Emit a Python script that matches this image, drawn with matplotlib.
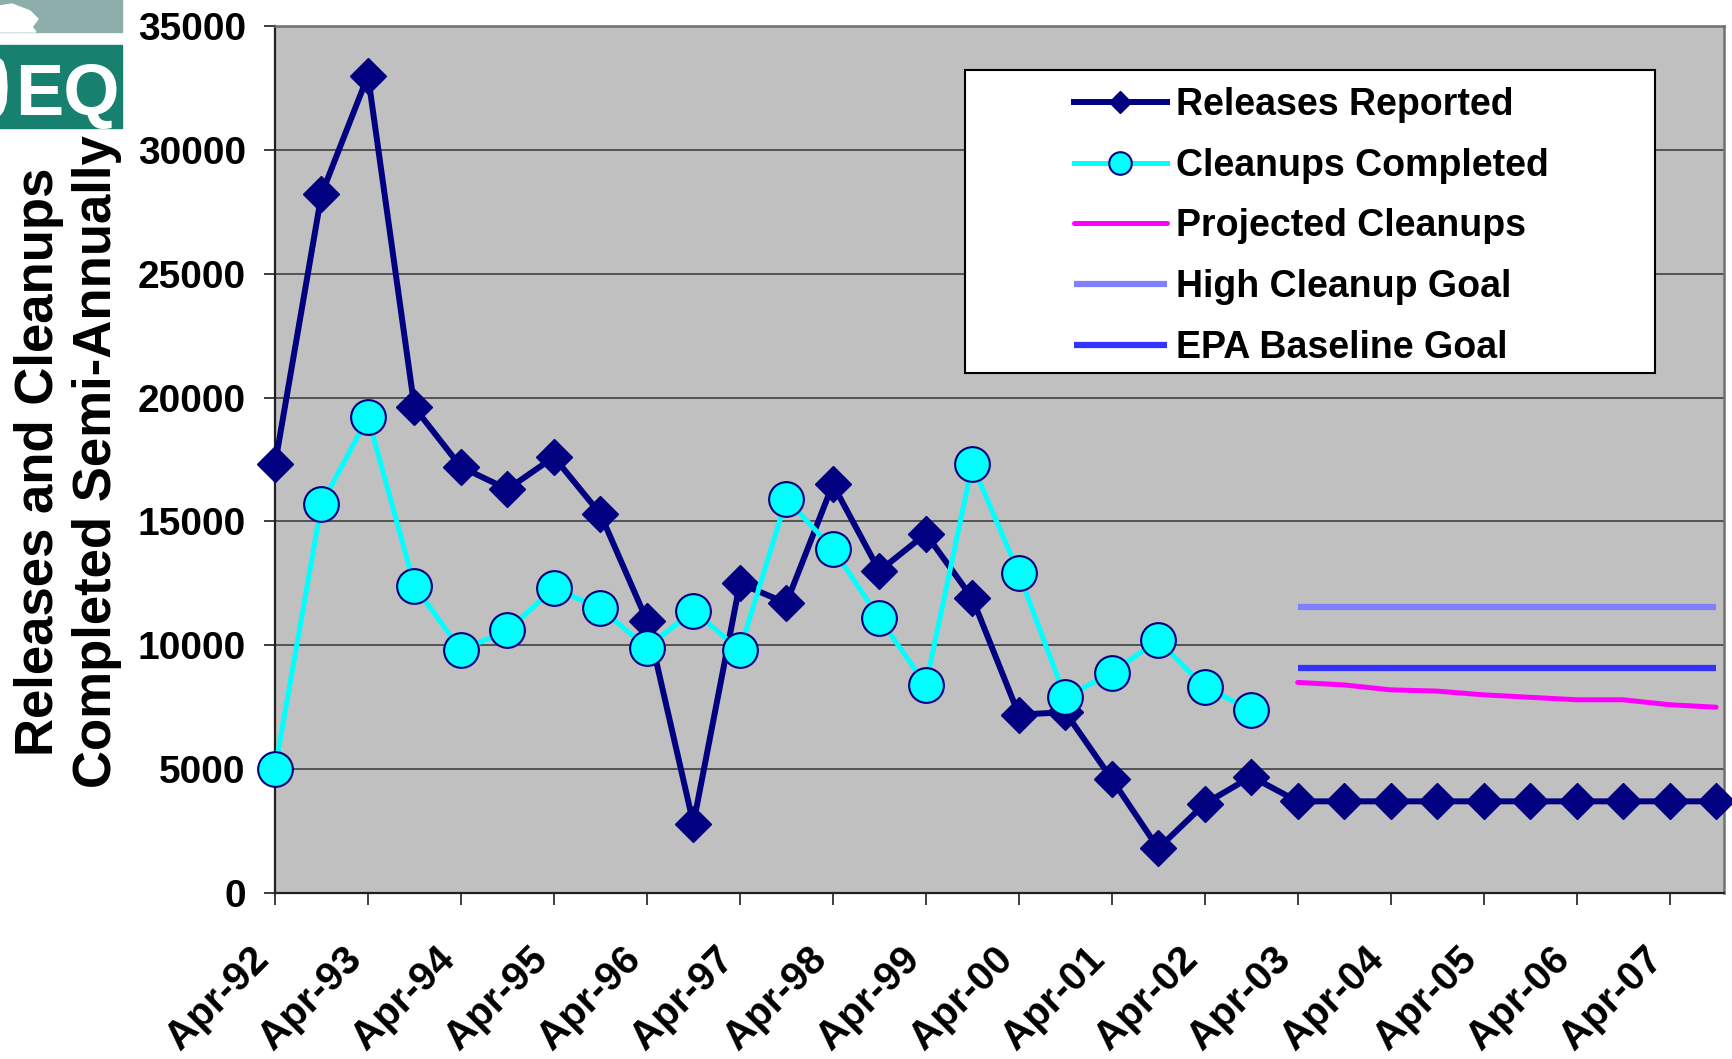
import numpy as np
import matplotlib
matplotlib.use("Agg")
import matplotlib.pyplot as plt
from matplotlib import font_manager
from matplotlib.patches import Rectangle, Polygon
from matplotlib.transforms import ScaledTranslation

plt.rcParams['font.family'] = ['Liberation Sans', 'DejaVu Sans']
plt.rcParams['font.weight'] = 'bold'

# semi-annual values, Apr-92 .. Oct-07
releases = [17300, 28200, 33000, 19600, 17200, 16300, 17600, 15300,
            11000, 2800, 12500, 11700, 16500, 13000, 14500, 11900,
            7200, 7300, 4600, 1800, 3600, 4700,
            3700, 3700, 3700, 3700, 3700, 3700, 3700, 3700, 3700, 3700]
cleanups = [5000, 15700, 19200, 12400, 9800, 10600, 12300, 11500,
            9900, 11400, 9800, 15900, 13900, 11100, 8400, 17300,
            12900, 7900, 8900, 10200, 8300, 7400]
projected = [8500, 8400, 8200, 8150, 8000, 7900, 7800, 7800, 7600, 7500]
high_goal = [11550] * 10
epa_goal = [9100] * 10
tick_labels = ["Apr-92", "Apr-93", "Apr-94", "Apr-95", "Apr-96", "Apr-97",
               "Apr-98", "Apr-99", "Apr-00", "Apr-01", "Apr-02", "Apr-03",
               "Apr-04", "Apr-05", "Apr-06", "Apr-07"]

W, H = 1733, 1059


def fx(px):
    return px / W


def fy(py):
    return 1 - py / H


fig = plt.figure(figsize=(W / 100, H / 100), dpi=100)
ax = fig.add_axes([fx(275), fy(893), fx(1724 - 275), (893 - 26) / H])
ax.set_facecolor('#C0C0C0')

x_all = np.arange(len(releases))
x_clean = np.arange(len(cleanups))
x_proj = np.arange(len(cleanups), len(cleanups) + len(projected))

ax.plot(x_all, releases, color='#000080', lw=4.3, marker='D', ms=18,
        mfc='#000080', mec='#000080', label='Releases Reported', zorder=3,
        clip_on=False)
ax.plot(x_clean, cleanups, color='#00FFFF', lw=3.6, marker='o', ms=25,
        mfc='#00FFFF', mec='#000080', mew=1.5, label='Cleanups Completed',
        zorder=3.5, clip_on=False)
ax.plot(x_proj, projected, color='#FF00FF', lw=3.6, solid_capstyle='round',
        label='Projected Cleanups', zorder=2.5)
ax.plot(x_proj, high_goal, color='#8080FF', lw=4.5, solid_capstyle='butt',
        label='High Cleanup Goal', zorder=2.5)
ax.plot(x_proj, epa_goal, color='#3333FF', lw=4.5, solid_capstyle='butt',
        label='EPA Baseline Goal', zorder=2.5)

ax.set_xlim(0, 31.17)
ax.set_ylim(0, 35000)
ax.set_yticks(np.arange(0, 35001, 5000))
ax.set_yticklabels([str(v) for v in range(0, 35001, 5000)])
ax.yaxis.grid(True, color='#404040', lw=1.2)
ax.set_axisbelow(True)

ax.set_xticks(np.arange(0, 2 * len(tick_labels), 2))
ax.set_xticklabels(tick_labels, rotation=45, ha='right', va='top',
                   rotation_mode='anchor')
ax.tick_params(axis='x', direction='out', length=8.6, width=1.3,
               color='#303030', pad=25, labelsize=29)
ax.tick_params(axis='y', direction='out', length=8, width=1.3,
               color='#303030', pad=13, labelsize=28)
shift = ScaledTranslation(-26 / 100, 0, fig.dpi_scale_trans)
for lab in ax.get_xticklabels():
    lab.set_transform(lab.get_transform() + shift)
    lab.set_fontweight('bold')
for lab in ax.get_yticklabels():
    lab.set_fontweight('bold')

for side in ['left', 'bottom']:
    ax.spines[side].set_color('#202020')
    ax.spines[side].set_linewidth(1.6)
for side in ['top', 'right']:
    ax.spines[side].set_color('#707070')
    ax.spines[side].set_linewidth(1.8)

# legend box and entries
box = Rectangle((fx(965), fy(373)), fx(1655 - 965), (373 - 70) / H,
                transform=fig.transFigure, facecolor='white',
                edgecolor='black', lw=1.5, zorder=4)
fig.add_artist(box)
leg = fig.legend(loc='upper left', bbox_to_anchor=(fx(1074), fy(87)),
                 frameon=False, borderpad=0, borderaxespad=0,
                 handlelength=2.48, handletextpad=0.25, labelspacing=0.66,
                 markerscale=0.65, prop={'weight': 'bold', 'size': 27})
leg.set_zorder(5)

# y label
fig.text(fx(68), fy(462), 'Releases and Cleanups\nCompleted Semi-Annually',
         rotation=90, ha='center', va='center', multialignment='center',
         fontsize=38, fontweight='bold', linespacing=1.2, zorder=6)

# logo fragment in the corner
fig.add_artist(Rectangle((0, fy(32)), fx(122), 32 / H,
                         transform=fig.transFigure, color='#8DAEAB', zorder=1))
fig.add_artist(Polygon([(fx(0), fy(6)), (fx(12), fy(4)), (fx(30), fy(11)),
                        (fx(38), fy(19)), (fx(32), fy(27)), (fx(36), fy(32)),
                        (fx(0), fy(32))],
                       transform=fig.transFigure, color='white', zorder=1.1))
fig.add_artist(Rectangle((0, fy(128)), fx(122), 83 / H,
                         transform=fig.transFigure, color='#17806E', zorder=1))
# sliver of the cut-off first letter
fig.add_artist(Polygon([(fx(0), fy(59)), (fx(3), fy(62)), (fx(6), fy(72)),
                        (fx(7), fy(87)), (fx(6), fy(102)), (fx(3), fy(111)),
                        (fx(0), fy(115))],
                       transform=fig.transFigure, color='white', zorder=1.2))
names = {f.name for f in font_manager.fontManager.ttflist}
if 'Liberation Sans Narrow' in names:
    logo_family, logo_size = 'Liberation Sans Narrow', 56
else:
    logo_family, logo_size = 'Liberation Sans', 52
fig.text(fx(15), fy(115), 'EQ', ha='left', va='baseline', color='white',
         fontsize=logo_size, fontweight='bold', family=logo_family, zorder=1.3)

fig.savefig('out.png', dpi=100)
